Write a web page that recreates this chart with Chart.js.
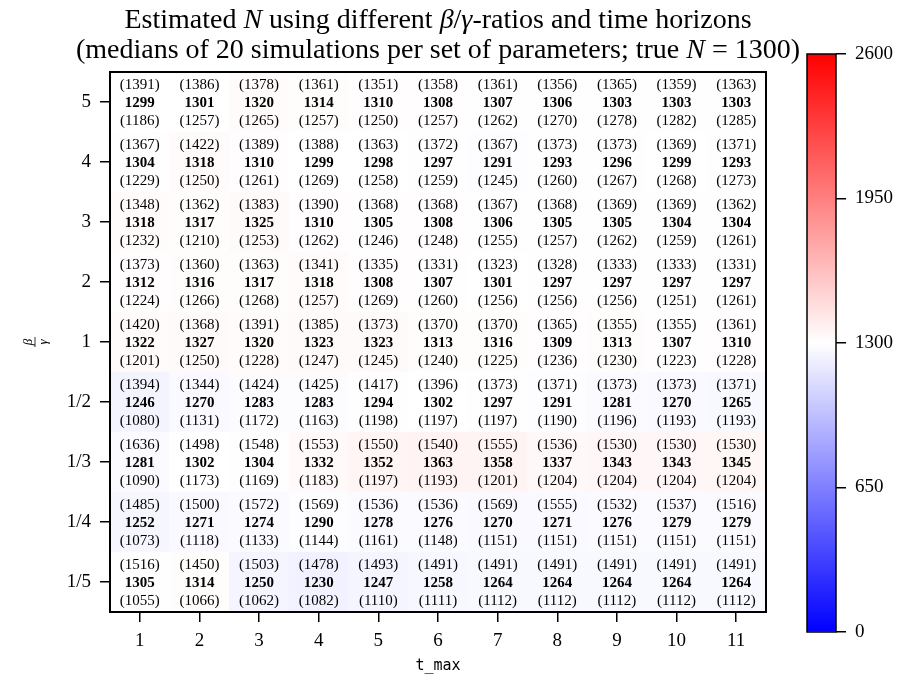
<!DOCTYPE html>
<html>
<head>
<meta charset="utf-8">
<title>Estimated N heatmap</title>
<script src="https://cdn.jsdelivr.net/npm/chart.js@4.4.1/dist/chart.umd.min.js"></script>
<style>
  html, body { margin: 0; padding: 0; background: #fff; overflow: hidden; }
  #wrap { position: relative; width: 897px; height: 682px; }
  #heatmap { position: absolute; left: 0; top: 0; }
  #colorbar { position: absolute; left: 760px; top: 0; }
</style>
</head>
<body>
<div id="wrap">
  <canvas id="heatmap" width="897" height="682"></canvas>
  <canvas id="colorbar" width="137" height="682"></canvas>
</div>
<script>
// t_max on x, beta/gamma ratio on y (rows listed top to bottom)
const colLabels = ['1', '2', '3', '4', '5', '6', '7', '8', '9', '10', '11'];
const rowLabels = ['5', '4', '3', '2', '1', '1/2', '1/3', '1/4', '1/5'];

const medianN = [
    [1299, 1301, 1320, 1314, 1310, 1308, 1307, 1306, 1303, 1303, 1303],
    [1304, 1318, 1310, 1299, 1298, 1297, 1291, 1293, 1296, 1299, 1293],
    [1318, 1317, 1325, 1310, 1305, 1308, 1306, 1305, 1305, 1304, 1304],
    [1312, 1316, 1317, 1318, 1308, 1307, 1301, 1297, 1297, 1297, 1297],
    [1322, 1327, 1320, 1323, 1323, 1313, 1316, 1309, 1313, 1307, 1310],
    [1246, 1270, 1283, 1283, 1294, 1302, 1297, 1291, 1281, 1270, 1265],
    [1281, 1302, 1304, 1332, 1352, 1363, 1358, 1337, 1343, 1343, 1345],
    [1252, 1271, 1274, 1290, 1278, 1276, 1270, 1271, 1276, 1279, 1279],
    [1305, 1314, 1250, 1230, 1247, 1258, 1264, 1264, 1264, 1264, 1264]
];

const upperN = [
    [1391, 1386, 1378, 1361, 1351, 1358, 1361, 1356, 1365, 1359, 1363],
    [1367, 1422, 1389, 1388, 1363, 1372, 1367, 1373, 1373, 1369, 1371],
    [1348, 1362, 1383, 1390, 1368, 1368, 1367, 1368, 1369, 1369, 1362],
    [1373, 1360, 1363, 1341, 1335, 1331, 1323, 1328, 1333, 1333, 1331],
    [1420, 1368, 1391, 1385, 1373, 1370, 1370, 1365, 1355, 1355, 1361],
    [1394, 1344, 1424, 1425, 1417, 1396, 1373, 1371, 1373, 1373, 1371],
    [1636, 1498, 1548, 1553, 1550, 1540, 1555, 1536, 1530, 1530, 1530],
    [1485, 1500, 1572, 1569, 1536, 1536, 1569, 1555, 1532, 1537, 1516],
    [1516, 1450, 1503, 1478, 1493, 1491, 1491, 1491, 1491, 1491, 1491]
];

const lowerN = [
    [1186, 1257, 1265, 1257, 1250, 1257, 1262, 1270, 1278, 1282, 1285],
    [1229, 1250, 1261, 1269, 1258, 1259, 1245, 1260, 1267, 1268, 1273],
    [1232, 1210, 1253, 1262, 1246, 1248, 1255, 1257, 1262, 1259, 1261],
    [1224, 1266, 1268, 1257, 1269, 1260, 1256, 1256, 1256, 1251, 1261],
    [1201, 1250, 1228, 1247, 1245, 1240, 1225, 1236, 1230, 1223, 1228],
    [1080, 1131, 1172, 1163, 1198, 1197, 1197, 1190, 1196, 1193, 1193],
    [1090, 1173, 1169, 1183, 1197, 1193, 1201, 1204, 1204, 1204, 1204],
    [1073, 1118, 1133, 1144, 1161, 1148, 1151, 1151, 1151, 1151, 1151],
    [1055, 1066, 1062, 1082, 1110, 1111, 1112, 1112, 1112, 1112, 1112]
];

const colorbarTicks = [0, 650, 1300, 1950, 2600];
const vmin = 0;
const vmax = 2600;

const titleLine1 = [['Estimated ', false], ['N', true], [' using different ', false], ['β', true], ['/', false], ['γ', true], ['-ratios and time horizons', false]];
const titleLine2 = [['(medians of 20 simulations per set of parameters; true ', false], ['N', true], [' = 1300)', false]];

const SERIF = '"Liberation Serif", "DejaVu Serif", serif';

// matplotlib "bwr": blue -> white -> red
function bwr(v) {
    const t = Math.min(Math.max((v - vmin) / (vmax - vmin), 0), 1);
    let r, g, b;
    if (t < 0.5) {
        r = g = 2 * t;
        b = 1;
    } else {
        r = 1;
        g = b = 2 * (1 - t);
    }
    return `rgb(${Math.round(r * 255)}, ${Math.round(g * 255)}, ${Math.round(b * 255)})`;
}

const framePlugin = {
    id: 'frame',
    afterDraw(chart, args, opts) {
        const { ctx, chartArea } = chart;
        ctx.save();
        ctx.strokeStyle = '#000';
        ctx.lineWidth = opts.width || 2;
        ctx.strokeRect(chartArea.left, chartArea.top, chartArea.right - chartArea.left, chartArea.bottom - chartArea.top);
        ctx.restore();
    }
};

const cellTextPlugin = {
    id: 'cellText',
    afterDatasetsDraw(chart) {
        const { ctx, scales: { x, y } } = chart;
        ctx.save();
        ctx.fillStyle = '#000';
        ctx.textAlign = 'center';
        ctx.textBaseline = 'middle';
        rowLabels.forEach((_, r) => {
            const cy = y.getPixelForValue(rowLabels.length - r - 0.5);
            colLabels.forEach((_, c) => {
                const cx = x.getPixelForValue(c);
                ctx.font = `15px ${SERIF}`;
                ctx.fillText(`(${upperN[r][c]})`, cx, cy - 17);
                ctx.font = `bold 15px ${SERIF}`;
                ctx.fillText(String(medianN[r][c]), cx, cy + 1);
                ctx.font = `15px ${SERIF}`;
                ctx.fillText(`(${lowerN[r][c]})`, cx, cy + 19);
            });
        });
        ctx.restore();
    }
};

function drawRuns(ctx, runs, cx, cy, size) {
    const widths = runs.map(([txt, it]) => {
        ctx.font = `${it ? 'italic ' : ''}${size}px ${SERIF}`;
        return ctx.measureText(txt).width;
    });
    let xPos = cx - widths.reduce((a, b) => a + b, 0) / 2;
    runs.forEach(([txt, it], i) => {
        ctx.font = `${it ? 'italic ' : ''}${size}px ${SERIF}`;
        ctx.fillText(txt, xPos, cy);
        xPos += widths[i];
    });
}

const labelsPlugin = {
    id: 'labels',
    afterDraw(chart) {
        const { ctx, chartArea } = chart;
        const cx = (chartArea.left + chartArea.right) / 2;
        ctx.save();
        ctx.fillStyle = '#000';
        ctx.textAlign = 'left';
        ctx.textBaseline = 'middle';
        drawRuns(ctx, titleLine1, cx, 21, 28);
        drawRuns(ctx, titleLine2, cx, 51, 28);

        // y label: beta over gamma, rotated
        const cy = (chartArea.top + chartArea.bottom) / 2;
        ctx.translate(35, cy);
        ctx.rotate(-Math.PI / 2);
        ctx.textAlign = 'center';
        ctx.font = `italic 13px ${SERIF}`;
        ctx.textBaseline = 'alphabetic';
        ctx.fillText('β', 0, -3);
        ctx.textBaseline = 'top';
        ctx.fillText('γ', 0, 2);
        ctx.lineWidth = 0.8;
        ctx.beginPath();
        ctx.moveTo(-5, 0);
        ctx.lineTo(5, 0);
        ctx.stroke();
        ctx.restore();
    }
};

function drawHeatmap() {
    const rowsBottomUp = rowLabels.slice().reverse();
    const datasets = rowLabels.map((label, r) => ({
        label: label,
        data: colLabels.map(() => 1),
        backgroundColor: medianN[r].map(bwr),
        borderWidth: 0,
        barPercentage: 1,
        categoryPercentage: 1
    })).reverse();

    const ctx = document.getElementById('heatmap').getContext('2d');
    new Chart(ctx, {
        type: 'bar',
        data: {
            labels: colLabels,
            datasets: datasets
        },
        options: {
            responsive: false,
            animation: false,
            layout: {
                padding: { left: 50, right: 131, top: 72, bottom: 0 }
            },
            scales: {
                x: {
                    stacked: true,
                    offset: true,
                    border: { display: false },
                    grid: {
                        drawOnChartArea: false,
                        drawTicks: true,
                        tickLength: 10,
                        color: '#000',
                        lineWidth: 1.5,
                        offset: false
                    },
                    ticks: {
                        color: '#000',
                        font: { family: SERIF, size: 19 },
                        padding: 8,
                        maxRotation: 0
                    },
                    title: {
                        display: true,
                        text: 't_max',
                        color: '#000',
                        font: { family: '"DejaVu Sans Mono", "Liberation Mono", monospace', size: 15 },
                        padding: { top: 0, bottom: 7 }
                    },
                    afterFit: (scale) => { scale.height = 70; }
                },
                y: {
                    type: 'linear',
                    stacked: true,
                    min: 0,
                    max: rowLabels.length,
                    border: { display: false },
                    afterBuildTicks: (scale) => {
                        scale.ticks = rowsBottomUp.map((_, i) => ({ value: i + 0.5 }));
                    },
                    grid: {
                        drawOnChartArea: false,
                        drawTicks: true,
                        tickLength: 10,
                        color: '#000',
                        lineWidth: 1.5
                    },
                    ticks: {
                        autoSkip: false,
                        color: '#000',
                        font: { family: SERIF, size: 19 },
                        padding: 9,
                        callback: (value, index) => rowsBottomUp[index]
                    },
                    afterFit: (scale) => { scale.width = 60; }
                }
            },
            plugins: {
                legend: { display: false },
                tooltip: { enabled: false },
                frame: { width: 2 }
            }
        },
        plugins: [cellTextPlugin, framePlugin, labelsPlugin]
    });
}

function drawColorbar() {
    const ctx = document.getElementById('colorbar').getContext('2d');
    new Chart(ctx, {
        type: 'bar',
        data: {
            labels: [''],
            datasets: [{
                data: [[vmin, vmax]],
                backgroundColor: (context) => {
                    const { ctx: c, chartArea } = context.chart;
                    if (!chartArea) return null;
                    const g = c.createLinearGradient(0, chartArea.bottom, 0, chartArea.top);
                    g.addColorStop(0, bwr(vmin));
                    g.addColorStop(0.5, bwr((vmin + vmax) / 2));
                    g.addColorStop(1, bwr(vmax));
                    return g;
                },
                borderWidth: 0,
                barPercentage: 1,
                categoryPercentage: 1
            }]
        },
        options: {
            responsive: false,
            animation: false,
            layout: {
                padding: { left: 47, right: 0, top: 54, bottom: 50 }
            },
            scales: {
                x: { display: false },
                y: {
                    position: 'right',
                    min: vmin,
                    max: vmax,
                    border: { display: false },
                    afterBuildTicks: (scale) => {
                        scale.ticks = colorbarTicks.map(v => ({ value: v }));
                    },
                    grid: {
                        drawOnChartArea: false,
                        drawTicks: true,
                        tickLength: 10,
                        color: '#000',
                        lineWidth: 1.5
                    },
                    ticks: {
                        color: '#000',
                        font: { family: SERIF, size: 19 },
                        padding: 9,
                        callback: (value) => String(value)
                    },
                    afterFit: (scale) => { scale.width = 61; }
                }
            },
            plugins: {
                legend: { display: false },
                tooltip: { enabled: false },
                frame: { width: 1.5 }
            }
        },
        plugins: [framePlugin]
    });
}

document.addEventListener('DOMContentLoaded', () => {
    drawHeatmap();
    drawColorbar();
});
</script>
</body>
</html>
